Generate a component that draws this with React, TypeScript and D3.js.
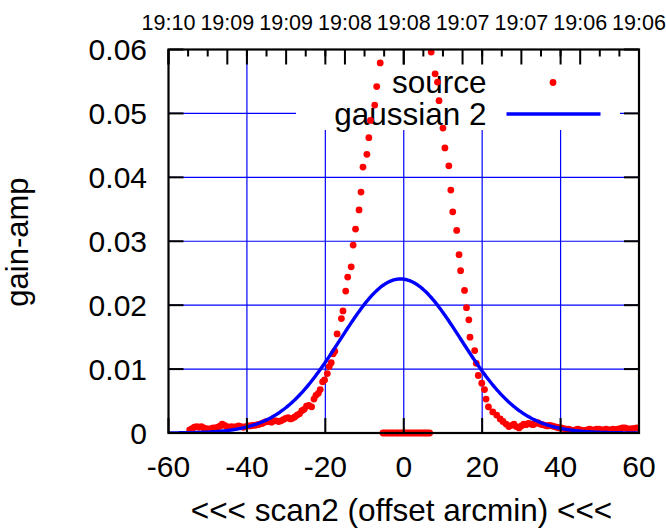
import React from "react";
import * as d3 from "d3";

const xTicks = [-60, -40, -20, 0, 20, 40, 60];
const yTicks = [0, 0.01, 0.02, 0.03, 0.04, 0.05, 0.06];
const timeLabels = ["19:10", "19:09", "19:09", "19:08", "19:08", "19:07", "19:07", "19:06", "19:06"];

// source points (offset arcmin, gain-amp)
const srcX = [
  -54.6, -54.0, -53.4, -52.8, -52.2, -51.6, -51.0, -50.4, -49.8, -49.2, -48.6, -48.0, -47.4, -46.8, -46.3,
  -45.7, -45.1, -44.5, -43.9, -43.3, -42.7, -42.1, -41.5, -40.9, -40.3, -39.7, -39.1, -38.5, -37.9, -37.3,
  -36.7, -36.1, -35.5, -34.9, -34.3, -33.7, -33.1, -32.5, -31.9, -31.3, -30.7, -30.1, -29.5, -28.9, -28.4,
  -27.8, -27.2, -26.6, -26.0, -25.4, -24.8, -24.2, -23.5, -22.9, -22.4, -21.8, -21.3, -20.7, -20.2, -19.5,
  -19.0, -18.5, -18.0, -17.6, -17.0, -15.9, -15.5, -14.8, -14.3, -13.4, -12.9, -12.3, -11.4, -10.9, -10.4,
  -9.4, -8.9, -8.5, -7.4, -6.9, -6.0,
  -5.3, -4.8, -4.2, -3.7, -3.1, -2.6, -2.0, -1.5, -0.9, -0.4, 0.2, 0.7, 1.3, 1.8, 2.4, 2.9, 3.5, 4.0, 4.6, 5.1, 5.6, 6.1,
  6.6, 7.0, 8.0, 8.6, 9.0, 10.0, 10.5, 11.5, 12.0, 12.5, 13.5, 14.1, 14.5, 15.5, 16.0, 16.6, 16.9, 18.1, 18.5,
  19.0, 19.9, 20.6, 21.0, 21.6, 22.7, 23.7, 24.6, 25.3, 26.1, 26.8, 27.5, 28.1, 28.7, 29.4, 30.0, 30.6, 31.2,
  31.8, 32.4, 33.0, 33.6, 34.2, 34.8, 35.4, 36.0, 36.6, 37.2, 37.8, 38.4, 39.0, 39.6, 40.2, 40.8, 41.4, 42.0,
  42.6, 43.2, 43.8, 44.4, 45.0, 45.6, 46.2, 46.8, 47.4, 48.0, 48.6, 49.2, 49.8, 50.4, 51.0, 51.6, 52.2, 52.8,
  53.4, 54.0, 54.6, 55.2, 55.8, 56.4, 57.0, 57.6, 58.2, 58.8, 59.4,
];
const srcY = [
  0.0005, 0.0007, 0.0009, 0.0010, 0.0009, 0.0010, 0.0008, 0.0007, 0.0006, 0.0007, 0.0008, 0.0008, 0.0009, 0.0011, 0.0014,
  0.0012, 0.0010, 0.0009, 0.0010, 0.0009, 0.0010, 0.0011, 0.0010, 0.0009, 0.0010, 0.0011, 0.0011, 0.0012, 0.0012, 0.0013,
  0.0014, 0.0015, 0.0017, 0.0018, 0.0018, 0.0017, 0.0019, 0.0019, 0.0018, 0.0019, 0.0021, 0.0023, 0.0024, 0.0022, 0.0023,
  0.0025, 0.0028, 0.0030, 0.0035, 0.0037, 0.0042, 0.0043, 0.0041, 0.0053, 0.0059, 0.0062, 0.0068, 0.0080, 0.0083, 0.0093,
  0.0104, 0.0110, 0.0124, 0.0128, 0.0155, 0.0179, 0.0191, 0.0222, 0.0244, 0.0260, 0.0294, 0.0319, 0.0349, 0.0377, 0.0416,
  0.0436, 0.0462, 0.0489, 0.0513, 0.0542, 0.0579,
  0, 0, 0, 0, 0, 0, 0, 0, 0, 0, 0, 0, 0, 0, 0, 0, 0, 0, 0, 0, 0, 0, 0,
  0.0596, 0.0562, 0.0549, 0.0520, 0.0477, 0.0446, 0.0418, 0.0380, 0.0346, 0.0317, 0.0279, 0.0254, 0.0223, 0.0196, 0.0177, 0.0150, 0.0129, 0.0109, 0.0090,
  0.0078, 0.0068, 0.0053, 0.0041, 0.0033, 0.0028, 0.0022, 0.0018, 0.0014, 0.0010, 0.0012, 0.0014, 0.0010, 0.0008, 0.0011, 0.0014, 0.0013, 0.0015,
  0.0014, 0.0013, 0.0015, 0.0016, 0.0014, 0.0013, 0.0012, 0.0011, 0.0012, 0.0011, 0.0010, 0.0009, 0.0008, 0.0008, 0.0007, 0.0006, 0.0006, 0.0005,
  0.0004, 0.0005, 0.0006, 0.0005, 0.0004, 0.0004, 0.0005, 0.0006, 0.0005, 0.0005, 0.0006, 0.0006, 0.0005, 0.0005, 0.0006, 0.0005, 0.0005, 0.0006,
  0.0005, 0.0006, 0.0007, 0.0008, 0.0008, 0.0007, 0.0006, 0.0007, 0.0007, 0.0008, 0.0011,
];

// gaussian 2 fit parameters
const gaussAmp = 0.0241;
const gaussMu = -0.8;
const gaussSigma = 15.4;

const W = 666;
const H = 529;
const L = 168.5, R = 639, T = 49.5, B = 433;
const FONT = "'Liberation Sans', Arial, Helvetica, sans-serif";

export default function App() {
  const x = d3.scaleLinear().domain([-60, 60]).range([L, R]);
  const y = d3.scaleLinear().domain([0, 0.06]).range([B, T]);
  const gx = d3.range(-60, 60.001, 0.25);
  const line = d3
    .line<number>()
    .x((d) => x(d))
    .y((d) => y(gaussAmp * Math.exp(-((d - gaussMu) ** 2) / (2 * gaussSigma * gaussSigma))));

  const pts = srcX.map((v, i) => [v, srcY[i]]).filter((p) => p[1] <= 0.06);

  const x2 = d3.scaleLinear().domain([0, timeLabels.length - 1]).range([L, R]);
  const minor = d3.range(0, (timeLabels.length - 1) * 3 + 1).map((i) => x2(i / 3));

  const legL = 296, legR = 620, legT = T, legB = 130;

  return (
    <svg width={W} height={H} style={{ position: "absolute", left: 0, top: 0, background: "#fff" }} fontFamily={FONT}>
      <rect x={0} y={0} width={W} height={H} fill="#fff" />
      <defs>
        <clipPath id="plot">
          <rect x={L} y={T} width={R - L} height={B - T} />
        </clipPath>
      </defs>
      {/* grid */}
      {xTicks.slice(1, -1).map((t) => (
        <line key={"gx" + t} x1={x(t)} x2={x(t)} y1={B} y2={T} stroke="#0000ff" strokeWidth={1.2} />
      ))}
      {yTicks.slice(1, -1).map((t) => (
        <line key={"gy" + t} x1={L} x2={R} y1={y(t)} y2={y(t)} stroke="#0000ff" strokeWidth={1.2} />
      ))}
      {/* legend box */}
      <rect x={legL} y={legT} width={legR - legL} height={legB - legT} fill="#fff" />
      <text x={486.5} y={93} fontSize={31.5} textAnchor="end" fill="#000">source</text>
      <circle cx={553} cy={82.5} r={3.4} fill="#ff0000" />
      <text x={486.5} y={124.5} fontSize={31.5} textAnchor="end" fill="#000">gaussian 2</text>
      <line x1={506.5} x2={600.5} y1={114} y2={114} stroke="#0000ff" strokeWidth={3.4} />
      {/* data */}
      <g>
        {pts.map((p, i) => (
          <circle key={i} cx={x(p[0])} cy={y(p[1])} r={3.4} fill="#ff0000" />
        ))}
      </g>
      <path d={line(gx) || ""} fill="none" stroke="#0000ff" strokeWidth={3.4} clipPath="url(#plot)" />
      {/* ticks */}
      {yTicks.map((t) => (
        <g key={"yt" + t}>
          <line x1={L} x2={L + 15} y1={y(t)} y2={y(t)} stroke="#000" strokeWidth={2} />
          <line x1={R} x2={R - 15} y1={y(t)} y2={y(t)} stroke="#000" strokeWidth={2} />
          <text x={147} y={y(t)} dy="0.36em" fontSize={30} textAnchor="end" fill="#000">
            {t === 0 ? "0" : d3.format(".2f")(t)}
          </text>
        </g>
      ))}
      {xTicks.map((t) => (
        <g key={"xt" + t}>
          <line x1={x(t)} x2={x(t)} y1={B} y2={B - 15} stroke="#000" strokeWidth={2} />
          <line x1={x(t)} x2={x(t)} y1={T} y2={T + 15} stroke="#000" strokeWidth={2} />
          <text x={x(t)} y={477} fontSize={30} textAnchor="middle" fill="#000">{t}</text>
        </g>
      ))}
      {minor.map((px, i) => (
        <line key={"mn" + i} x1={px} x2={px} y1={T} y2={T + (i % 3 === 0 ? 15 : 7)} stroke="#000" strokeWidth={2} />
      ))}
      {timeLabels.map((s, i) => (
        <text key={"tl" + i} x={x2(i)} y={30} fontSize={21.5} textAnchor="middle" fill="#000">{s}</text>
      ))}
      <rect x={L} y={T} width={R - L} height={B - T} fill="none" stroke="#000" strokeWidth={2.2} />
      <text x={401.5} y={521} fontSize={31.5} textAnchor="middle" fill="#000">{"<<< scan2 (offset arcmin) <<<"}</text>
      <text transform="translate(28,242) rotate(-90)" fontSize={31} textAnchor="middle" fill="#000">gain-amp</text>
    </svg>
  );
}
